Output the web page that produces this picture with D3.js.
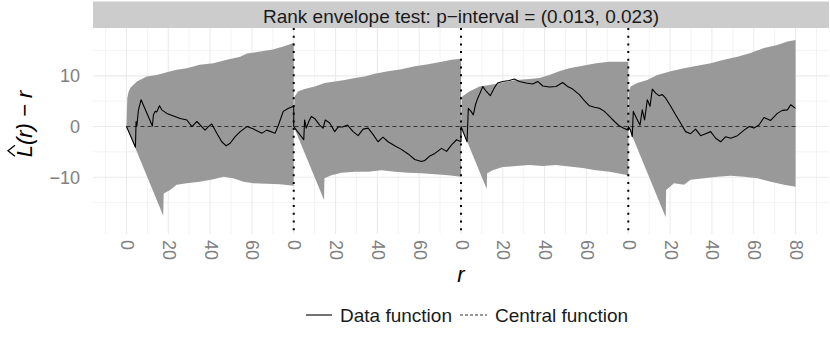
<!DOCTYPE html>
<html>
<head>
<meta charset="utf-8">
<script src="https://cdn.jsdelivr.net/npm/d3@7"></script>
<style>
  html, body { margin: 0; padding: 0; background: #fff; }
  svg { display: block; font-family: 'Liberation Sans', Arial, Helvetica, sans-serif; }
</style>
</head>
<body>
<div id="chart"></div>
<script>
(function(window){
  'use strict';

  // values, [r, value] per panel (r runs 0..80 in each panel)
  var upper1 = [[0,0],[0.4,5.6],[1,6.8],[1.8,7.6],[5,8.9],[9.7,9.9],[14.5,10.2],[19.3,10.7],[24,11.2],[28.9,11.5],[35,12.2],[41.6,12.5],[48,13.2],[54.4,13.8],[57.6,14.4],[64,14.8],[70,15.2],[75,15.8],[80,16.5]];
  var upper2 = [[0,0],[0.4,5.9],[2,6.9],[5.2,7.4],[10,7.9],[14.8,8.6],[19.6,8.9],[24.4,9.2],[29.2,9.6],[33.9,9.9],[38.7,10.4],[45.1,10.9],[51.5,11.3],[57.9,11.9],[64.3,12.3],[70.7,12.8],[75.5,13.2],[80,13.4]];
  var upper3 = [[0,0],[0.4,5.9],[4,6.9],[8.8,7.9],[13.6,8.2],[19.9,8.7],[26.3,9.2],[32.7,9.4],[37.5,9.6],[42.3,10.2],[47,10.9],[51.8,11.5],[58.2,12.0],[64.6,12.5],[71,12.8],[77.4,12.8],[80,12.8]];
  var upper4 = [[0,0],[0.4,7.0],[1.1,7.9],[4.3,8.6],[9.1,9.2],[13.9,10.2],[20.3,10.9],[26.7,11.5],[33,12.0],[39.4,12.5],[45.8,13.2],[52.2,13.8],[58.5,14.5],[64.9,15.5],[71.3,16.1],[76.1,16.8],[80,17.1]];

  var lower1 = [[0,0],[17.6,-17.6],[17.8,-13.2],[20.9,-12.5],[24,-11.5],[28.9,-11.2],[35,-10.9],[41.6,-10.4],[46.4,-9.9],[51,-10.2],[56,-10.9],[60.7,-11.2],[67,-11.3],[73.5,-11.4],[80,-11.7]];
  var lower2 = [[0,0],[14.5,-14.5],[14.7,-10.2],[18,-9.6],[22.8,-9.1],[29.2,-8.9],[35.6,-8.9],[42,-8.6],[48.4,-8.9],[54.7,-9.1],[61.1,-9.2],[67.5,-9.4],[74,-9.6],[80,-9.9]];
  var lower3 = [[0,0],[12.3,-12.3],[12.5,-9.2],[15.2,-8.6],[19.9,-8.0],[26.3,-7.8],[32.7,-7.6],[39,-7.8],[45.5,-7.6],[51.8,-7.9],[58.2,-8.2],[64.6,-8.6],[71,-8.9],[77.4,-9.4],[80,-9.6]];
  var lower4 = [[0,0],[17.9,-17.9],[18.1,-12.5],[21.9,-11.2],[26.7,-11.5],[29.8,-10.5],[36.2,-10.2],[42.6,-9.9],[49,-9.7],[55.4,-9.9],[61.7,-10.2],[68.1,-10.9],[74.5,-11.5],[80,-11.9]];

  var data1 = [[0,0],[4.3,-4.1],[4.6,1.0],[5.0,0.2],[5.7,3.2],[7,5.3],[12.4,0.1],[12.9,2.3],[13.7,3.0],[14.5,2.9],[15.8,4.1],[16.9,3.3],[19.3,2.6],[22.5,2.1],[25.7,1.6],[28.9,1.3],[31.3,0],[33.7,1.0],[36,0],[37.6,-0.7],[39.2,0],[40.8,0.5],[43.2,-1.3],[45.6,-3.0],[47.7,-3.8],[49.6,-3.3],[52,-2.0],[54.4,-1.0],[57.6,0],[60.8,-0.5],[64.8,-1.3],[67.1,-0.7],[71.1,-1.3],[72.7,0.3],[75,3.0],[77.5,3.6],[80,4.0]];
  var data2 = [[0,0],[4.8,-2.6],[5.2,1.3],[6,-0.3],[7.2,1.0],[8.4,2.0],[10,1.6],[12.4,0.3],[14,-0.3],[15.1,1.3],[17.2,0.7],[19.6,-1.0],[21.2,-0.1],[23.3,-0.1],[25.7,0.3],[28.4,-1.0],[30.8,-1.8],[33.2,-0.5],[35.6,-0.3],[38,-1.6],[40.3,-3.0],[42.7,-2.1],[45.1,-3.0],[48.3,-3.8],[51.5,-4.5],[54.7,-5.4],[57.9,-6.5],[61.1,-6.9],[62.7,-6.7],[65.1,-5.8],[67.5,-5.3],[70.7,-4.3],[73.1,-4.9],[75.5,-3.6],[77.9,-2.6],[80,-3.0]];
  var data3 = [[0,0],[2.9,-3.0],[3.5,3.6],[4.8,3.0],[5.9,2.3],[6.9,4.3],[8,5.6],[9.1,6.6],[10.4,7.9],[12,7.0],[14,6.1],[15.9,7.6],[17.5,8.6],[19.9,8.9],[23.1,9.1],[25.5,9.4],[27.9,8.9],[31.1,8.6],[34.3,8.4],[36.7,8.9],[39.1,8.0],[42.3,7.8],[45.5,7.9],[48.6,8.7],[51,7.9],[53.4,7.4],[56.6,6.3],[59,5.1],[61.4,4.1],[63.8,3.8],[66.2,3.6],[68.6,3.0],[71,2.0],[73.4,1.0],[75.8,0.1],[78.1,-0.4],[80,-0.7]];
  var data4 = [[0,0],[1.1,-0.7],[1.9,-2.0],[2.4,3.0],[4,1.6],[5.6,0.3],[6.7,3.3],[7.8,1.3],[9.1,5.3],[10.4,4.0],[11.5,7.4],[13.1,6.6],[14.7,6.1],[16.3,6.3],[17.9,5.6],[20.3,4.0],[22.7,2.3],[25,0.7],[27.4,-1.0],[29.8,-1.4],[32.2,-0.5],[34.6,-1.8],[37,-1.4],[39.4,-1.0],[41.8,-2.3],[44.2,-3.0],[46.6,-2.0],[49,-2.3],[52.2,-1.8],[55.4,-0.7],[57.8,0],[60.1,-0.3],[62.5,0.3],[64.9,1.8],[68.1,1.2],[71.3,2.6],[73.7,3.2],[76.1,3.3],[77.7,4.3],[80,3.6]];

  var central = [[0,0],[80,0]];

  var xTickValues = [0,20,40,60,80,100,120,140,160,180,200,220,240,260,280,300,320];
  var xTickLabels = ['0','20','40','60','0','20','40','60','0','20','40','60','0','20','40','60','80'];
  var yTickValues = [-10, 0, 10];
  var yMinor = [-15, -5, 5, 15];

  var titleText = 'Rank envelope test: p\u2212interval = (0.013, 0.023)';
  var legendLabels = ['Data function', 'Central function'];

  var uppers = [upper1, upper2, upper3, upper4];
  var lowers = [lower1, lower2, lower3, lower4];
  var datas = [data1, data2, data3, data4];
  var panelLen = 80;

  function toGlobal(list){
    var out = [];
    list.forEach(function(arr, p){
      arr.forEach(function(d){ out.push([p * panelLen + d[0], d[1]]); });
    });
    return out;
  }

  var W = 830, H = 346;
  var left = 93, right = 829, top = 28, bottom = 234;

  var svg = d3.select('#chart').append('svg').attr('width', W).attr('height', H);

  var x = d3.scaleLinear().domain([-16, 336]).range([left, right]);
  var y = d3.scaleLinear().domain([-21.2, 19.45]).range([bottom, top]);

  // strip
  svg.append('rect').attr('x', left).attr('y', 1.5).attr('width', right - left).attr('height', top - 1.5)
    .attr('fill', '#cccccc');
  svg.append('text').attr('x', (left + right) / 2).attr('y', 22.5).attr('text-anchor', 'middle')
    .attr('font-size', '19px').attr('fill', '#1a1a1a').text(titleText);

  // grid
  var grid = svg.append('g');
  var xMinor = d3.range(-10, 336, 20);
  grid.selectAll('.xm').data(xMinor).enter().append('line')
    .attr('x1', function(d){ return x(d); }).attr('x2', function(d){ return x(d); })
    .attr('y1', top).attr('y2', bottom).attr('stroke', '#ebebeb').attr('stroke-width', 0.6);
  grid.selectAll('.ym').data(yMinor).enter().append('line')
    .attr('y1', function(d){ return y(d); }).attr('y2', function(d){ return y(d); })
    .attr('x1', left).attr('x2', right).attr('stroke', '#ebebeb').attr('stroke-width', 0.6);
  grid.selectAll('.xM').data(xTickValues).enter().append('line')
    .attr('x1', function(d){ return x(d); }).attr('x2', function(d){ return x(d); })
    .attr('y1', top).attr('y2', bottom).attr('stroke', '#ebebeb').attr('stroke-width', 1.1);
  grid.selectAll('.yM').data(yTickValues).enter().append('line')
    .attr('y1', function(d){ return y(d); }).attr('y2', function(d){ return y(d); })
    .attr('x1', left).attr('x2', right).attr('stroke', '#ebebeb').attr('stroke-width', 1.1);

  // envelope
  var up = toGlobal(uppers), lo = toGlobal(lowers).reverse();
  var line = d3.line().x(function(d){ return x(d[0]); }).y(function(d){ return y(d[1]); });
  svg.append('path').attr('d', line(up.concat(lo)) + 'Z').attr('fill', '#999999');

  // central function
  svg.append('path').attr('d', line(toGlobal([central, central, central, central])))
    .attr('fill', 'none').attr('stroke', '#333333').attr('stroke-width', 1.1).attr('stroke-dasharray', '4,3');

  // data function
  svg.append('path').attr('d', line(toGlobal(datas)))
    .attr('fill', 'none').attr('stroke', '#000').attr('stroke-width', 1.1).attr('stroke-linejoin', 'round');

  // panel separators
  svg.selectAll('.sep').data([1, 2, 3]).enter().append('line')
    .attr('x1', function(p){ return x(p * panelLen); }).attr('x2', function(p){ return x(p * panelLen); })
    .attr('y1', top).attr('y2', bottom)
    .attr('stroke', '#000').attr('stroke-width', 2).attr('stroke-dasharray', '2,5.7');

  // axes
  var xAxis = d3.axisBottom(x).tickValues(xTickValues).tickSize(0)
    .tickFormat(function(d, i){ return xTickLabels[i]; });
  var gx = svg.append('g').attr('transform', 'translate(0,' + bottom + ')').call(xAxis);
  gx.select('.domain').remove();
  gx.selectAll('text').attr('fill', '#808080').attr('font-size', '18px')
    .attr('font-family', null)
    .attr('y', 0).attr('dy', null).attr('x', 0)
    .attr('text-anchor', 'start').attr('dominant-baseline', 'central')
    .attr('transform', 'translate(0,6) rotate(90)');

  var yAxis = d3.axisLeft(y).tickValues(yTickValues).tickSize(0)
    .tickFormat(function(d){ return d < 0 ? '\u2212' + Math.abs(d) : String(d); });
  var gy = svg.append('g').attr('transform', 'translate(' + left + ',0)').call(yAxis);
  gy.select('.domain').remove();
  gy.selectAll('text').attr('fill', '#808080').attr('font-size', '18px')
    .attr('font-family', null).attr('x', -13).attr('dy', null)
    .attr('dominant-baseline', 'central');

  // axis titles
  svg.append('text').attr('x', (left + right) / 2).attr('y', 281.5).attr('text-anchor', 'middle')
    .attr('font-size', '22px').attr('font-style', 'italic').attr('fill', '#000').text('r');

  var yt = svg.append('g').attr('transform', 'translate(32,124) rotate(-90)');
  var ytext = yt.append('text').attr('font-size', '22px').attr('font-style', 'italic').attr('fill', '#000');
  ytext.append('tspan').text('L');
  ytext.append('tspan').text('(r) \u2212 r');
  var tw = ytext.node().getComputedTextLength();
  ytext.attr('x', -tw / 2);
  var hx = -tw / 2;
  yt.append('path').attr('d', 'M' + (hx + 1) + ',-17 L' + (hx + 6.5) + ',-24 L' + (hx + 12) + ',-17')
    .attr('fill', 'none').attr('stroke', '#000').attr('stroke-width', 1.3);

  // legend
  var lg = svg.append('g');
  lg.append('line').attr('x1', 306).attr('x2', 332).attr('y1', 315).attr('y2', 315)
    .attr('stroke', '#000').attr('stroke-width', 1.1);
  lg.append('text').attr('x', 340).attr('y', 322).attr('font-size', '19px').attr('fill', '#1a1a1a').text(legendLabels[0]);
  lg.append('line').attr('x1', 460).attr('x2', 487).attr('y1', 315).attr('y2', 315)
    .attr('stroke', '#333').attr('stroke-width', 1.1).attr('stroke-dasharray', '3,2');
  lg.append('text').attr('x', 495).attr('y', 322).attr('font-size', '19px').attr('fill', '#1a1a1a').text(legendLabels[1]);

})(window);
</script>
</body>
</html>
